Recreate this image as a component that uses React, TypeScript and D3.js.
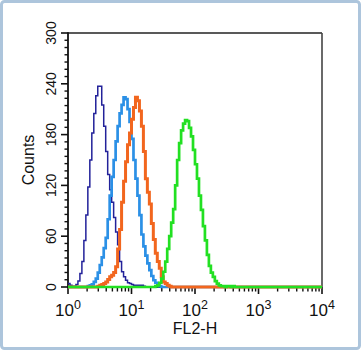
import React from "react";
import * as d3 from "d3";

// Histogram bins: 32 bins per decade over 10^0 .. 10^4 (FL2-H)
const binsPerDecade = 32;
const xDecades = [0, 1, 2, 3, 4];
const yTicks = [0, 60, 120, 180, 240, 300];

// counts per bin, each series starts at the given bin index
const navyStart = 0;
const navyCounts = [4, 2, 1, 1, 3, 7, 16, 30, 55, 85, 118, 150, 182, 205, 226, 237, 237, 215, 190, 160, 133, 115, 100, 82, 65, 50, 30, 18, 12, 8, 5, 4, 3, 2, 2, 2, 2, 2, 1];

const lightBlueStart = 10;
const lightBlueCounts = [1, 2, 3, 6, 10, 17, 26, 35, 46, 58, 80, 108, 130, 150, 172, 190, 205, 215, 224, 222, 210, 195, 175, 150, 128, 108, 85, 62, 48, 37, 28, 20, 13, 8, 5, 2, 1];

const orangeStart = 15;
const orangeCounts = [1, 2, 3, 4, 6, 9, 12, 14, 17, 24, 45, 68, 100, 125, 148, 168, 182, 198, 212, 224, 220, 208, 190, 160, 128, 112, 98, 75, 56, 40, 30, 22, 12, 6, 4, 2, 1];

const greenStart = 44;
const greenCounts = [1, 2, 5, 10, 18, 30, 45, 60, 76, 92, 120, 150, 170, 185, 193, 197, 196, 188, 178, 162, 145, 128, 108, 91, 72, 55, 38, 25, 17, 12, 7, 4, 2, 1, 1, 0, 1, 1, 0, 1];

const seriesList = [
  { name: "control", start: navyStart, counts: navyCounts, color: "#23229a", width: 1.5 },
  { name: "blue", start: lightBlueStart, counts: lightBlueCounts, color: "#2b90e6", width: 2.7 },
  { name: "orange", start: orangeStart, counts: orangeCounts, color: "#f2661e", width: 3 },
  { name: "green", start: greenStart, counts: greenCounts, color: "#22e022", width: 2.7 },
];

export default function App() {
  const W = 361, H = 350;
  const L = 68, R = 322, T = 33, B = 287;
  const nBins = binsPerDecade * 4;
  const x = d3.scaleLog().domain([1, 10000]).range([L, R]);
  const y = d3.scaleLinear().domain([0, 300]).range([B, T]);
  const line = d3
    .line<[number, number]>()
    .x((d) => x(Math.pow(10, d[0] / binsPerDecade)))
    .y((d) => y(d[1]))
    .curve(d3.curveStepAfter);

  const paths = seriesList.map((s) => {
    const full: [number, number][] = [];
    for (let i = 0; i < nBins; i++) {
      const j = i - s.start;
      const c = j >= 0 && j < s.counts.length ? s.counts[j] : 0;
      full.push([i, c]);
    }
    full.push([nBins, full[nBins - 1][1]]);
    return { ...s, d: line(full) || "" };
  });

  const minorX: number[] = [];
  for (let dec = 0; dec < 4; dec++) {
    for (let k = 2; k <= 9; k++) minorX.push(k * Math.pow(10, dec));
  }
  const minorY: number[] = [];
  for (let m = 0; m < 5; m++) {
    for (let k = 1; k < 7; k++) minorY.push(yTicks[m] + (k * 60) / 7);
  }
  const font = "'Liberation Sans', Arial, Helvetica, sans-serif";

  return (
    <svg width={W} height={H} style={{ position: "absolute", left: 0, top: 0 }} fontFamily={font}>
      <rect x={0} y={0} width={W} height={H} fill="#fff" />
      <rect x={1.5} y={1.5} width={W - 3} height={H - 3} rx={3} fill="#fff" stroke="#adc5dc" strokeWidth={3} />
      {/* frame */}
      <line x1={L} y1={T} x2={R} y2={T} stroke="#222" strokeWidth={1.6} />
      <line x1={R} y1={T} x2={R} y2={B} stroke="#444" strokeWidth={1.6} />
      <line x1={L} y1={T - 0.8} x2={L} y2={B + 0.8} stroke="#111" strokeWidth={1.8} />
      <line x1={L} y1={B} x2={R} y2={B} stroke="#111" strokeWidth={1.8} />
      {/* y ticks */}
      {yTicks.map((t) => (
        <line key={"yt" + t} x1={L - 7} x2={L} y1={y(t)} y2={y(t)} stroke="#111" strokeWidth={1.6} />
      ))}
      {minorY.map((t, i) => (
        <line key={"ym" + i} x1={L - 3.5} x2={L} y1={y(t)} y2={y(t)} stroke="#111" strokeWidth={1.4} />
      ))}
      {yTicks.map((t) => (
        <text
          key={"yl" + t}
          transform={`translate(56,${y(t)}) rotate(-90)`}
          textAnchor="middle"
          fontSize={14}
          fill="#111"
        >
          {t}
        </text>
      ))}
      {/* x ticks */}
      {xDecades.map((d) => (
        <line key={"xt" + d} x1={x(Math.pow(10, d))} x2={x(Math.pow(10, d))} y1={B} y2={B + 7} stroke="#111" strokeWidth={1.6} />
      ))}
      {minorX.map((v, i) => (
        <line key={"xm" + i} x1={x(v)} x2={x(v)} y1={B} y2={B + 4.5} stroke="#111" strokeWidth={1.4} />
      ))}
      {xDecades.map((d) => (
        <text key={"xl" + d} x={x(Math.pow(10, d))} y={316} textAnchor="middle" fontSize={17} fill="#111">
          <tspan>10</tspan>
          <tspan fontSize={12.5} dy={-7}>
            {d}
          </tspan>
        </text>
      ))}
      {/* axis titles */}
      <text transform={`translate(34,${(T + B) / 2}) rotate(-90)`} textAnchor="middle" fontSize={16} fill="#111">
        Counts
      </text>
      <text x={(L + R) / 2} y={334} textAnchor="middle" fontSize={16} fill="#111">
        FL2-H
      </text>
      {/* histograms */}
      {paths.map((p) => (
        <path key={p.name} d={p.d} fill="none" stroke={p.color} strokeWidth={p.width} strokeLinejoin="miter" />
      ))}
    </svg>
  );
}
